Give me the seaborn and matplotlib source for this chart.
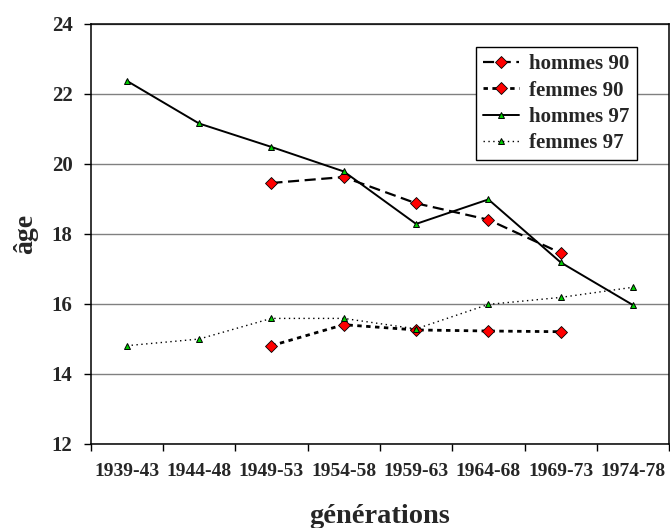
import numpy as np
import pandas as pd
import matplotlib
matplotlib.use("Agg")
import matplotlib.pyplot as plt
import seaborn as sns

generations = ["1939-43", "1944-48", "1949-53", "1954-58",
               "1959-63", "1964-68", "1969-73", "1974-78"]
hommes_90 = [np.nan, np.nan, 19.45, 19.62, 18.87, 18.40, 17.45, np.nan]
femmes_90 = [np.nan, np.nan, 14.80, 15.40, 15.25, 15.22, 15.20, np.nan]
hommes_97 = [22.37, 21.15, 20.48, 19.78, 18.28, 18.98, 17.18, 15.96]
femmes_97 = [14.80, 14.99, 15.58, 15.58, 15.28, 15.98, 16.18, 16.47]
y_ticks = [12, 14, 16, 18, 20, 22, 24]

sns.set_style("ticks")
plt.rcParams["font.family"] = ["Liberation Serif", "DejaVu Serif"]
plt.rcParams["font.weight"] = "bold"

pos = {g: i for i, g in enumerate(generations)}
df = pd.DataFrame({
    "génération": generations * 4,
    "série": (["hommes 90"] * 8 + ["femmes 90"] * 8 +
              ["hommes 97"] * 8 + ["femmes 97"] * 8),
    "âge": hommes_90 + femmes_90 + hommes_97 + femmes_97,
})
df["x"] = df["génération"].map(pos)
df = df.dropna()

fig = plt.figure(figsize=(6.7, 5.28), dpi=100)
ax = fig.add_axes([0.1352, 0.1597, 0.8636, 0.7953])

styles = {
    "hommes 90": dict(linestyle=(0, (5, 2.5)), linewidth=1.6, marker="D",
                      markersize=6, markerfacecolor="#ff0000",
                      markeredgecolor="black", markeredgewidth=0.6),
    "femmes 90": dict(linestyle=(0, (1.6, 1.6)), linewidth=2.0, marker="D",
                      markersize=6, markerfacecolor="#ff0000",
                      markeredgecolor="black", markeredgewidth=0.6),
    "hommes 97": dict(linestyle="-", linewidth=1.4, marker="^",
                      markersize=5, markerfacecolor="#00cc00",
                      markeredgecolor="black", markeredgewidth=0.7),
    "femmes 97": dict(linestyle=(0, (1, 2.5)), linewidth=1.0, marker="^",
                      markersize=5, markerfacecolor="#00cc00",
                      markeredgecolor="black", markeredgewidth=0.7),
}
for name in ["hommes 90", "femmes 90", "hommes 97", "femmes 97"]:
    sub = df[df["série"] == name]
    sns.lineplot(data=sub, x="x", y="âge", ax=ax, color="black",
                 label=name, sort=True, estimator=None, **styles[name])

ax.set_xlim(-0.5, len(generations) - 0.5)
ax.set_ylim(12, 24)
ax.set_yticks(y_ticks)
ax.set_yticklabels([str(v) for v in y_ticks])
ax.set_xticks(range(len(generations)))
ax.set_xticklabels(generations)
ax.set_xticks(np.arange(-0.5, len(generations), 1), minor=True)
ax.tick_params(axis="x", which="major", length=0, pad=14, labelsize=14)
ax.tick_params(axis="x", which="minor", length=5, width=1, color="black",
               direction="out")
ax.tick_params(axis="y", length=5, width=1, color="black", direction="out",
               pad=8, labelsize=15)
for lab in ax.get_xticklabels() + ax.get_yticklabels():
    lab.set_fontweight("bold")

ax.yaxis.grid(True, color="#808080", linewidth=1)
ax.set_axisbelow(True)
for sp in ax.spines.values():
    sp.set_visible(True)
    sp.set_color("black")
    sp.set_linewidth(1.1)

ax.set_xlabel("générations", fontsize=20.5, fontweight="bold", labelpad=17.5)
ax.set_ylabel("âge", fontsize=20, fontweight="bold", labelpad=10)

leg = ax.legend(loc="upper right", bbox_to_anchor=(0.944, 0.9445),
                borderaxespad=0, fontsize=15, frameon=True, fancybox=False,
                edgecolor="black", framealpha=1, handlelength=1.7,
                labelspacing=0.3, borderpad=0.35, handletextpad=0.5)
leg.get_frame().set_linewidth(1)
for t in leg.get_texts():
    t.set_fontweight("bold")

fig.savefig("out.png", dpi=100)
